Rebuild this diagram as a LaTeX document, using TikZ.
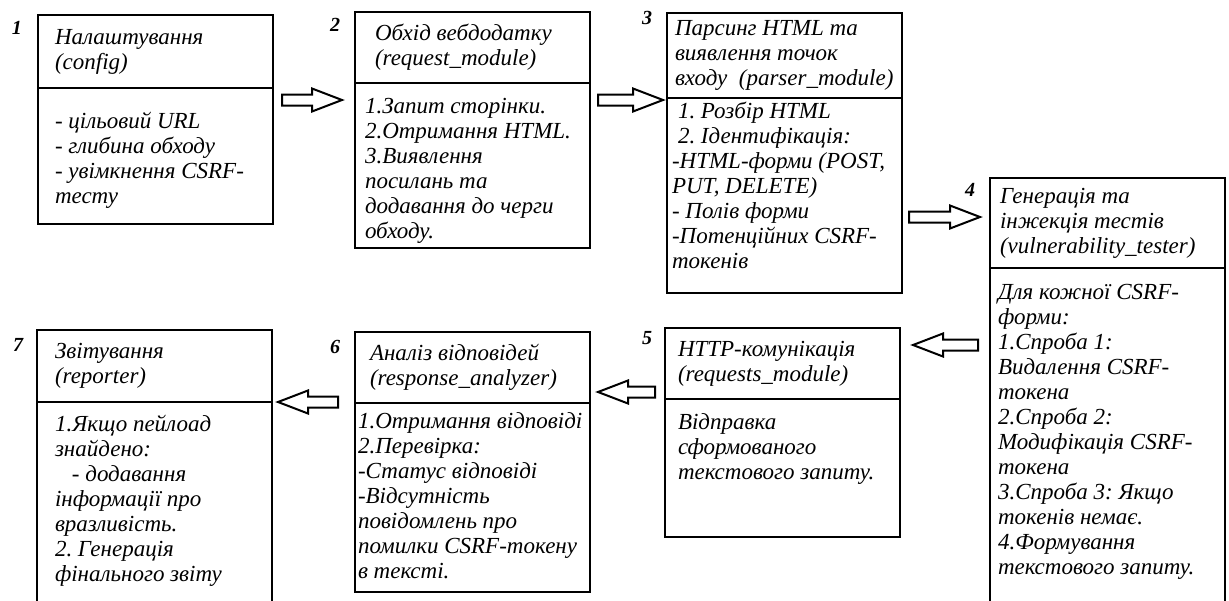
\documentclass[tikz,border=0pt]{standalone}
\usepackage{fontspec}
\setmainfont{Liberation Serif}
\usetikzlibrary{calc}
\newcommand{\stagefont}{\fontsize{23}{25}\selectfont\itshape\frenchspacing}
\newcommand{\stagepar}[1]{\leftskip=#1\relax\rightskip=-40pt plus 1fil\relax\parfillskip=0pt plus 1fil\relax}
\tikzset{
  stagehead/.style n args={2}{draw, line width=2.6pt, anchor=north west,
    inner sep=0pt, outer sep=0pt, minimum height=#1,
    execute at begin node={\begin{minipage}{235pt}\stagefont\stagepar{#2}\strut},
    execute at end node={\strut\end{minipage}}},
  stagebody/.style n args={3}{draw, line width=2.6pt, anchor=north west,
    inner sep=0pt, outer sep=0pt,
    execute at begin node={\begin{minipage}[t][#1][t]{235pt}\stagefont\stagepar{#2}\vspace*{#3}\strut},
    execute at end node={\end{minipage}}},
  stagenum/.style={font=\fontsize{20}{22}\selectfont\bfseries\itshape, inner sep=0pt},
  blockarrow/.style={draw, line width=2pt, line join=miter,
    to path={(\tikztostart) coordinate (bas) (\tikztotarget) coordinate (bat)
      ($(bat)!30pt!(bas)$) coordinate (bah)
      ($(bas)!5.5pt!90:(bat)$) -- ($(bah)!5.5pt!90:(bat)$) -- ($(bah)!11.5pt!90:(bat)$)
      -- (bat) -- ($(bah)!11.5pt!-90:(bat)$) -- ($(bah)!5.5pt!-90:(bat)$)
      -- ($(bas)!5.5pt!-90:(bat)$) -- cycle}},
}
\begin{document}
\begin{tikzpicture}[x=1pt, y=-1pt]
  \useasboundingbox (0,0) rectangle (1229,600);
  \clip (0,0) rectangle (1229,600);

  % --- top row ------------------------------------------------------------
  \node[stagehead={73pt}{17pt}] (cfgHead) at (38,15) {Налаштування\\(config)};
  \node[stagebody={136pt}{17pt}{23pt}] (cfgBody) at (cfgHead.south west)
    {- цільовий URL\\- глибина обходу\\- увімкнення CSRF-\\тесту};

  \node[stagehead={71pt}{20pt}] (crawlHead) at (355,12) {Обхід вебдодатку\\(request\_module)};
  \node[stagebody={165pt}{10pt}{13pt}] (crawlBody) at (crawlHead.south west)
    {1.Запит сторінки.\\2.Отримання HTML.\\3.Виявлення\\посилань та\\додавання до черги\\обходу.};

  \node[stagehead={85pt}{8pt}] (parseHead) at (667,13) {Парсинг HTML та\\виявлення точок\\входу~ (parser\_module)};
  \node[stagebody={195pt}{5pt}{3pt}] (parseBody) at (parseHead.south west)
    {\hspace*{6pt}1. Розбір HTML\\\hspace*{6pt}2. Ідентифікація:\\-HTML-форми (POST,\\PUT, DELETE)\\- Полів форми\\-Потенційних CSRF-\\токенів};

  \node[stagehead={90pt}{10pt}] (testerHead) at (990,178) {Генерація та\\інжекція тестів\\(vulnerability\_tester)};
  \node[stagebody={347pt}{8pt}{14pt}] (testerBody) at (testerHead.south west)
    {Для кожної CSRF-\\форми:\\1.Спроба 1:\\Видалення CSRF-\\токена\\2.Спроба 2:\\Модифікація CSRF-\\токена\\3.Спроба 3: Якщо\\токенів немає.\\4.Формування\\текстового запиту.};

  % --- bottom row ---------------------------------------------------------
  \node[stagehead={71pt}{13pt}] (httpHead) at (665,328) {HTTP-комунікація\\(requests\_module)};
  \node[stagebody={138pt}{13pt}{13pt}] (httpBody) at (httpHead.south west)
    {Відправка\\сформованого\\текстового запиту.};

  \node[stagehead={71pt}{15pt}] (analyzeHead) at (355,332) {Аналіз відповідей\\(response\_analyzer)};
  \node[stagebody={189pt}{3pt}{8pt}] (analyzeBody) at (analyzeHead.south west)
    {1.Отримання відповіді\\2.Перевірка:\\-Статус відповіді\\-Відсутність\\повідомлень про\\помилки CSRF-токену\\в тексті.};

  \node[stagehead={72pt}{18pt}] (reportHead) at (37,330) {Звітування\\(reporter)};
  \node[stagebody={213pt}{18pt}{12pt}] (reportBody) at (reportHead.south west)
    {1.Якщо пейлоад\\знайдено:\\\hspace*{17pt}- додавання\\інформації про\\вразливість.\\2. Генерація\\фінального звіту};

  % step numbers
  \node[stagenum] (num1) at ($(cfgHead.north west)+(-21pt,-13pt)$) {1};
  \node[stagenum] (num2) at ($(crawlHead.north west)+(-20pt,-13pt)$) {2};
  \node[stagenum] (num3) at ($(parseHead.north west)+(-20pt,-5pt)$) {3};
  \node[stagenum] (num4) at ($(testerHead.north west)+(-20pt,-12pt)$) {4};
  \node[stagenum] (num5) at ($(httpHead.north west)+(-18pt,-10pt)$) {5};
  \node[stagenum] (num6) at ($(analyzeHead.north west)+(-20pt,-15pt)$) {6};
  \node[stagenum] (num7) at ($(reportHead.north west)+(-19pt,-15pt)$) {7};

  % --- flow arrows --------------------------------------------------------
  \draw[blockarrow] ($(cfgHead.south east)+(9pt,-12pt)$) to ($(cfgHead.south east -| crawlHead.west)+(-13pt,-12pt)$);
  \draw[blockarrow] ($(parseHead.south west -| crawlBody.east)+(8pt,-2pt)$) to ($(parseHead.south west)+(-4pt,-2pt)$);
  \draw[blockarrow] ($(testerHead.west -| parseBody.east)+(7pt,6pt)$) to ($(testerHead.west)+(-10pt,6pt)$);
  \draw[blockarrow] ($(httpHead.north east -| testerBody.west)+(-12pt,-17pt)$) to ($(httpHead.north east)+(13pt,-17pt)$);
  \draw[blockarrow] ($(httpHead.south west)+(-10pt,7pt)$) to ($(httpHead.south west -| analyzeHead.east)+(8pt,7pt)$);
  \draw[blockarrow] ($(reportHead.south east -| analyzeHead.west)+(-17pt,0pt)$) to ($(reportHead.south east)+(6pt,0pt)$);

\end{tikzpicture}
\end{document}
